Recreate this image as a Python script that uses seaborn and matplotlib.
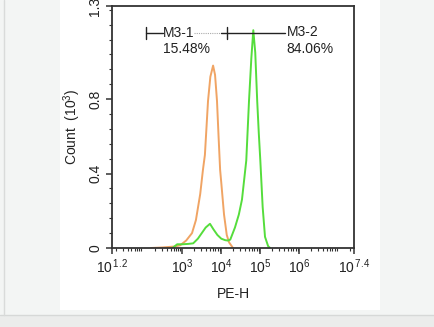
import numpy as np
import pandas as pd
import matplotlib
matplotlib.use("Agg")
import matplotlib.pyplot as plt
import seaborn as sns
from matplotlib.patches import Rectangle
from matplotlib.lines import Line2D

# ---- data (x as log10 of PE-H, counts in 10^3) ----
orange_logx = [2.2, 2.5, 2.8, 2.95, 3.1, 3.25, 3.35, 3.46, 3.53, 3.58, 3.66, 3.72, 3.79, 3.84, 3.89, 3.93, 3.97, 4.0, 4.07, 4.14, 4.2, 4.3]
orange_cnt  = [0.0, 0.003, 0.008, 0.015, 0.04, 0.08, 0.15, 0.29, 0.42, 0.5, 0.79, 0.92, 0.98, 0.93, 0.79, 0.6, 0.42, 0.35, 0.18, 0.07, 0.03, 0.0]
green_logx  = [2.75, 2.87, 3.0, 3.15, 3.28, 3.4, 3.5, 3.6, 3.71, 3.8, 3.9, 4.0, 4.1, 4.17, 4.23, 4.35, 4.45, 4.53, 4.64, 4.71, 4.77, 4.82, 4.87, 4.92, 4.96, 5.0, 5.06, 5.12, 5.2, 5.25]
green_cnt   = [0.0, 0.02, 0.02, 0.022, 0.025, 0.05, 0.08, 0.11, 0.13, 0.1, 0.07, 0.05, 0.042, 0.04, 0.045, 0.11, 0.18, 0.26, 0.47, 0.79, 1.02, 1.17, 1.05, 0.79, 0.62, 0.47, 0.22, 0.06, 0.01, 0.0]

x_tick_exps = [1.2, 3, 4, 5, 6, 7.4]
x_tick_labels = [r"$\mathregular{10^{\,1.2}}$", r"$\mathregular{10^{3}}$", r"$\mathregular{10^{4}}$",
                 r"$\mathregular{10^{5}}$", r"$\mathregular{10^{6}}$", r"$\mathregular{10^{\,7.4}}$"]
y_ticks = [0, 0.4, 0.8, 1.3]
y_tick_labels = ["0", "0.4", "0.8", "1.3"]

gate_names = ["M3-1", "M3-2"]
gate_pcts = ["15.48%", "84.06%"]

sns.set_style("ticks")
plt.rcParams["font.family"] = ["Liberation Sans", "DejaVu Sans"]
plt.rcParams["mathtext.fontset"] = "custom"
plt.rcParams["mathtext.rm"] = "Liberation Sans"
plt.rcParams["mathtext.it"] = "Liberation Sans:italic"
plt.rcParams["mathtext.bf"] = "Liberation Sans:bold"

W, H = 435, 327
fig = plt.figure(figsize=(W / 100, H / 100), dpi=100)
fig.patch.set_facecolor("#f3f5f4")

# page decorations
fig.add_artist(Rectangle((60 / W, 1 - 310 / H), 320 / W, 310 / H, transform=fig.transFigure,
                         facecolor="white", edgecolor="none", zorder=0))
fig.add_artist(Rectangle((0, 0), 1, 1 - 315 / H, transform=fig.transFigure,
                         facecolor="#ebeceb", edgecolor="none", zorder=0))
fig.add_artist(Line2D([0, 1], [1 - 315 / H] * 2, transform=fig.transFigure, color="#d6d8d7", lw=1))
fig.add_artist(Line2D([4.5 / W] * 2, [1 - 315 / H, 1], transform=fig.transFigure, color="#d9dbda", lw=1))

ax = fig.add_axes([112 / W, 1 - 248 / H, (354 - 112) / W, (248 - 6) / H])
ax.set_facecolor("white")

df_o = pd.DataFrame({"x": 10 ** np.array(orange_logx), "y": orange_cnt})
df_g = pd.DataFrame({"x": 10 ** np.array(green_logx), "y": green_cnt})
sns.lineplot(data=df_o, x="x", y="y", ax=ax, color="#f0a464", lw=1.4, sort=False)
sns.lineplot(data=df_g, x="x", y="y", ax=ax, color="#55dd3c", lw=1.4, sort=False)

ax.set_xscale("log")
ax.set_xlim(10 ** 1.2, 10 ** 7.4)
ax.set_ylim(0, 1.3)
ax.set_xticks([10 ** e for e in x_tick_exps])
ax.set_xticklabels(x_tick_labels, fontsize=10)
ax.xaxis.set_minor_locator(matplotlib.ticker.LogLocator(base=10, subs=np.arange(2, 10), numticks=20))
ax.xaxis.set_minor_formatter(matplotlib.ticker.NullFormatter())
ax.set_yticks(y_ticks)
ax.set_yticklabels(y_tick_labels, fontsize=10, rotation=90, va="center")
ax.yaxis.set_minor_locator(matplotlib.ticker.MultipleLocator(0.08))
ax.tick_params(axis="both", which="major", length=4, width=1.1, color="#333333", labelcolor="#222222", pad=3)
ax.tick_params(axis="both", which="minor", length=2, width=0.8, color="#333333")
for s in ax.spines.values():
    s.set_color("#333333")
    s.set_linewidth(1.3)

ax.set_xlabel("PE-H", fontsize=10, color="#222222", labelpad=8)
ax.set_ylabel(r"Count  (10$^{\mathregular{3}}$)", fontsize=10, color="#222222", labelpad=4)

# gates
gy = 1.153
k = "#222222"
ax.plot([10 ** 2.07, 10 ** 2.5], [gy, gy], color=k, lw=1)
ax.plot([10 ** 2.07] * 2, [gy - 0.032, gy + 0.032], color=k, lw=1)
ax.plot([10 ** 3.3, 10 ** 4.0], [gy, gy], color="#aaaaaa", lw=0.8, ls=(0, (1, 1)))
ax.plot([10 ** 4.0, 10 ** 5.64], [gy, gy], color=k, lw=1)
ax.plot([10 ** 4.15] * 2, [gy - 0.032, gy + 0.032], color=k, lw=1)
ax.text(10 ** 2.51, gy, gate_names[0], fontsize=10, va="center", ha="left", color=k)
ax.text(10 ** 2.51, 1.07, gate_pcts[0], fontsize=10, va="center", ha="left", color=k)
ax.text(10 ** 5.68, gy + 0.005, gate_names[1], fontsize=10, va="center", ha="left", color=k)
ax.text(10 ** 5.68, 1.07, gate_pcts[1], fontsize=10, va="center", ha="left", color=k)

fig.savefig("out.png", dpi=100, facecolor=fig.get_facecolor())
